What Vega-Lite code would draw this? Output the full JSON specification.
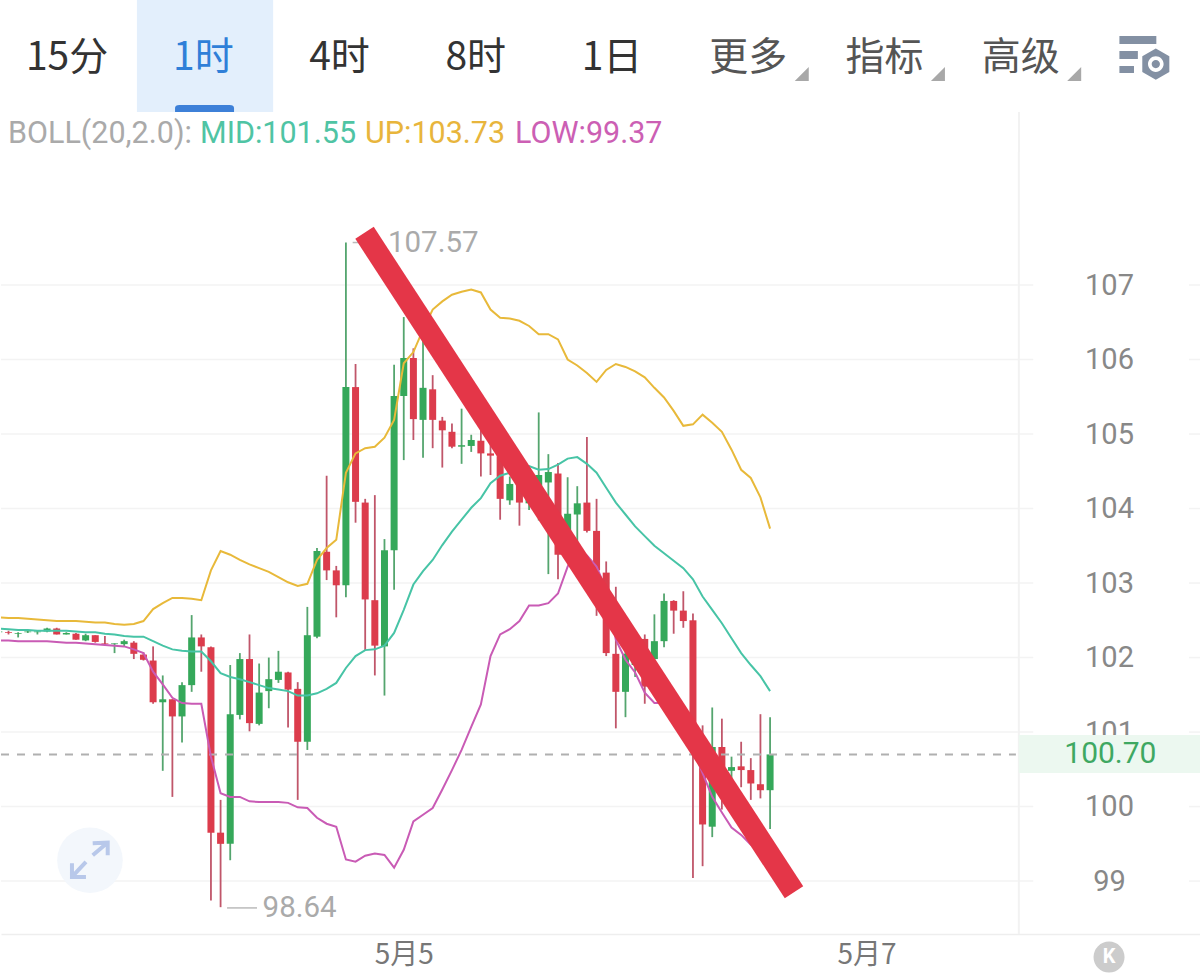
{"$schema":"https://vega.github.io/schema/vega-lite/v6.json","padding":0,"background":"white","spacing":0,"bounds":"flush","config":{"view":{"stroke":null},"axis":{"title":null},"concat":{"spacing":0}},
"datasets":{
"tabs":[{"tab":"15分"},{"tab":"1时"},{"tab":"4时"},{"tab":"8时"},{"tab":"1日"},{"tab":"更多"},{"tab":"指标"},{"tab":"高级"},{"tab":"设置"}],
"boll":[{"key":"BOLL","label":"BOLL(20,2.0):"},{"key":"MID","label":"MID:101.55"},{"key":"UP","label":"UP:103.73"},{"key":"LOW","label":"LOW:99.37"}],
"levels":[{"p":99},{"p":100},{"p":101},{"p":102},{"p":103},{"p":104},{"p":105},{"p":106},{"p":107}],
"extremes":[{"n":35,"n1":35.7,"n2":36.4,"p":107.57,"t":"107.57"},{"n":22,"n1":22.67,"n2":25.78,"p":98.64,"t":"98.64"}],
"slash":[{"n":36.93,"p":107.7},{"n":81.48,"p":98.85}],
"expand":[{"n":8.45,"p":99.28}],
"home":[{"n":114.16,"p":97.98,"t":"K"}],
"last":[{"n":114.3,"p":100.7,"t":"100.70","lo":100.45,"hi":100.96,"n1":104.8,"n2":123.7}],
"c":[
{"n":-1,"dir":"u","high":102.36,"open":102.34,"close":102.35,"low":102.33,"mid":102.39,"upper":102.54,"lower":102.23},
{"n":0,"dir":"d","high":102.36,"open":102.34,"close":102.33,"low":102.31,"mid":102.38,"upper":102.53,"lower":102.23},
{"n":1,"dir":"u","high":102.34,"open":102.32,"close":102.33,"low":102.27,"mid":102.37,"upper":102.53,"lower":102.22},
{"n":2,"dir":"u","high":102.36,"open":102.34,"close":102.35,"low":102.33,"mid":102.37,"upper":102.52,"lower":102.22},
{"n":3,"dir":"u","high":102.37,"open":102.34,"close":102.35,"low":102.31,"mid":102.36,"upper":102.51,"lower":102.22},
{"n":4,"dir":"u","high":102.4,"open":102.35,"close":102.39,"low":102.34,"mid":102.36,"upper":102.5,"lower":102.22},
{"n":5,"dir":"d","high":102.4,"open":102.39,"close":102.31,"low":102.31,"mid":102.36,"upper":102.49,"lower":102.21},
{"n":6,"dir":"u","high":102.34,"open":102.31,"close":102.33,"low":102.31,"mid":102.36,"upper":102.49,"lower":102.2},
{"n":7,"dir":"d","high":102.33,"open":102.32,"close":102.24,"low":102.24,"mid":102.35,"upper":102.49,"lower":102.2},
{"n":8,"dir":"u","high":102.32,"open":102.23,"close":102.3,"low":102.22,"mid":102.34,"upper":102.48,"lower":102.19},
{"n":9,"dir":"d","high":102.3,"open":102.3,"close":102.21,"low":102.2,"mid":102.34,"upper":102.47,"lower":102.18},
{"n":10,"dir":"d","high":102.29,"open":102.19,"close":102.18,"low":102.17,"mid":102.32,"upper":102.47,"lower":102.17},
{"n":11,"dir":"u","high":102.19,"open":102.18,"close":102.19,"low":102.06,"mid":102.31,"upper":102.45,"lower":102.16},
{"n":12,"dir":"u","high":102.24,"open":102.18,"close":102.22,"low":102.15,"mid":102.29,"upper":102.44,"lower":102.15},
{"n":13,"dir":"d","high":102.22,"open":102.2,"close":102.05,"low":101.98,"mid":102.28,"upper":102.45,"lower":102.11},
{"n":14,"dir":"d","high":102.07,"open":102.04,"close":101.97,"low":101.96,"mid":102.28,"upper":102.49,"lower":102.06},
{"n":15,"dir":"d","high":102.15,"open":101.96,"close":101.4,"low":101.38,"mid":102.22,"upper":102.65,"lower":101.81},
{"n":16,"dir":"u","high":101.76,"open":101.4,"close":101.44,"low":100.48,"mid":102.16,"upper":102.73,"lower":101.64},
{"n":17,"dir":"d","high":101.44,"open":101.44,"close":101.21,"low":100.13,"mid":102.11,"upper":102.8,"lower":101.46},
{"n":18,"dir":"u","high":101.67,"open":101.21,"close":101.63,"low":100.86,"mid":102.09,"upper":102.8,"lower":101.39},
{"n":19,"dir":"u","high":102.57,"open":101.63,"close":102.27,"low":101.54,"mid":102.08,"upper":102.79,"lower":101.38},
{"n":20,"dir":"d","high":102.31,"open":102.27,"close":102.15,"low":101.81,"mid":102.08,"upper":102.77,"lower":101.38},
{"n":21,"dir":"d","high":102.15,"open":102.14,"close":99.65,"low":98.74,"mid":101.95,"upper":103.17,"lower":100.67},
{"n":22,"dir":"d","high":100.09,"open":99.65,"close":99.5,"low":98.65,"mid":101.79,"upper":103.43,"lower":100.18},
{"n":23,"dir":"u","high":101.9,"open":99.5,"close":101.24,"low":99.28,"mid":101.74,"upper":103.38,"lower":100.13},
{"n":24,"dir":"u","high":102.06,"open":101.23,"close":101.98,"low":101.17,"mid":101.71,"upper":103.31,"lower":100.13},
{"n":25,"dir":"d","high":102.31,"open":101.98,"close":101.12,"low":101.01,"mid":101.67,"upper":103.25,"lower":100.07},
{"n":26,"dir":"u","high":101.92,"open":101.11,"close":101.53,"low":101.09,"mid":101.63,"upper":103.2,"lower":100.06},
{"n":27,"dir":"u","high":102.0,"open":101.55,"close":101.71,"low":101.32,"mid":101.59,"upper":103.15,"lower":100.06},
{"n":28,"dir":"u","high":102.09,"open":101.7,"close":101.81,"low":101.66,"mid":101.57,"upper":103.08,"lower":100.06},
{"n":29,"dir":"d","high":101.81,"open":101.8,"close":101.57,"low":101.06,"mid":101.55,"upper":103.01,"lower":100.05},
{"n":30,"dir":"d","high":101.67,"open":101.58,"close":100.87,"low":100.09,"mid":101.49,"upper":102.96,"lower":99.99},
{"n":31,"dir":"u","high":102.68,"open":100.87,"close":102.3,"low":100.76,"mid":101.49,"upper":102.99,"lower":99.98},
{"n":32,"dir":"u","high":103.47,"open":102.28,"close":103.43,"low":102.26,"mid":101.52,"upper":103.31,"lower":99.85},
{"n":33,"dir":"d","high":104.44,"open":103.42,"close":103.17,"low":103.04,"mid":101.58,"upper":103.47,"lower":99.77},
{"n":34,"dir":"d","high":103.23,"open":103.17,"close":102.97,"low":102.54,"mid":101.66,"upper":103.58,"lower":99.73},
{"n":35,"dir":"u","high":107.57,"open":102.97,"close":105.63,"low":102.81,"mid":101.86,"upper":104.48,"lower":99.29},
{"n":36,"dir":"d","high":105.94,"open":105.63,"close":104.09,"low":103.81,"mid":102.02,"upper":104.74,"lower":99.26},
{"n":37,"dir":"d","high":104.13,"open":104.08,"close":102.78,"low":102.09,"mid":102.1,"upper":104.81,"lower":99.34},
{"n":38,"dir":"d","high":104.18,"open":102.77,"close":102.16,"low":101.76,"mid":102.11,"upper":104.83,"lower":99.37},
{"n":39,"dir":"u","high":103.59,"open":102.15,"close":103.44,"low":101.49,"mid":102.16,"upper":104.95,"lower":99.35},
{"n":40,"dir":"u","high":105.93,"open":103.44,"close":105.51,"low":102.91,"mid":102.33,"upper":105.19,"lower":99.18},
{"n":41,"dir":"u","high":106.57,"open":105.51,"close":106.02,"low":104.65,"mid":102.64,"upper":105.95,"lower":99.42},
{"n":42,"dir":"d","high":106.15,"open":106.02,"close":105.2,"low":104.92,"mid":102.98,"upper":106.1,"lower":99.8},
{"n":43,"dir":"u","high":106.26,"open":105.19,"close":105.62,"low":104.68,"mid":103.16,"upper":106.4,"lower":99.89},
{"n":44,"dir":"d","high":105.79,"open":105.6,"close":105.19,"low":104.81,"mid":103.31,"upper":106.67,"lower":99.98},
{"n":45,"dir":"d","high":105.23,"open":105.18,"close":105.05,"low":104.55,"mid":103.51,"upper":106.78,"lower":100.23},
{"n":46,"dir":"d","high":105.14,"open":105.03,"close":104.83,"low":104.81,"mid":103.69,"upper":106.87,"lower":100.49},
{"n":47,"dir":"u","high":105.34,"open":104.83,"close":104.85,"low":104.6,"mid":103.85,"upper":106.91,"lower":100.76},
{"n":48,"dir":"u","high":104.99,"open":104.84,"close":104.92,"low":104.76,"mid":104.01,"upper":106.94,"lower":101.07},
{"n":49,"dir":"d","high":105.08,"open":104.91,"close":104.74,"low":104.43,"mid":104.14,"upper":106.9,"lower":101.37},
{"n":50,"dir":"d","high":104.92,"open":104.74,"close":104.71,"low":104.45,"mid":104.34,"upper":106.67,"lower":102.02},
{"n":51,"dir":"d","high":104.75,"open":104.7,"close":104.13,"low":103.85,"mid":104.44,"upper":106.56,"lower":102.31},
{"n":52,"dir":"u","high":104.43,"open":104.11,"close":104.33,"low":104.05,"mid":104.48,"upper":106.55,"lower":102.38},
{"n":53,"dir":"d","high":104.38,"open":104.34,"close":104.08,"low":103.77,"mid":104.52,"upper":106.52,"lower":102.49},
{"n":54,"dir":"u","high":104.52,"open":104.07,"close":104.38,"low":103.98,"mid":104.57,"upper":106.45,"lower":102.7},
{"n":55,"dir":"u","high":105.29,"open":104.05,"close":104.45,"low":103.84,"mid":104.52,"upper":106.34,"lower":102.7},
{"n":56,"dir":"u","high":104.73,"open":104.35,"close":104.49,"low":103.12,"mid":104.53,"upper":106.34,"lower":102.73},
{"n":57,"dir":"d","high":104.61,"open":104.47,"close":103.38,"low":103.05,"mid":104.59,"upper":106.27,"lower":102.86},
{"n":58,"dir":"u","high":104.42,"open":103.69,"close":103.93,"low":103.51,"mid":104.67,"upper":106.0,"lower":103.22},
{"n":59,"dir":"u","high":104.3,"open":103.92,"close":104.07,"low":103.54,"mid":104.69,"upper":105.92,"lower":103.47},
{"n":60,"dir":"d","high":104.96,"open":104.08,"close":103.7,"low":103.68,"mid":104.6,"upper":105.82,"lower":103.37},
{"n":61,"dir":"d","high":104.13,"open":103.7,"close":103.17,"low":102.56,"mid":104.48,"upper":105.7,"lower":103.22},
{"n":62,"dir":"d","high":103.29,"open":103.14,"close":102.06,"low":102.02,"mid":104.28,"upper":105.86,"lower":102.91},
{"n":63,"dir":"d","high":102.95,"open":102.05,"close":101.54,"low":101.05,"mid":104.08,"upper":105.94,"lower":102.24},
{"n":64,"dir":"u","high":102.15,"open":101.54,"close":102.05,"low":101.2,"mid":103.92,"upper":105.9,"lower":101.97},
{"n":65,"dir":"u","high":102.37,"open":101.9,"close":102.17,"low":101.74,"mid":103.76,"upper":105.84,"lower":101.8},
{"n":66,"dir":"d","high":102.31,"open":102.25,"close":101.61,"low":101.38,"mid":103.63,"upper":105.76,"lower":101.53},
{"n":67,"dir":"u","high":102.58,"open":101.98,"close":102.22,"low":101.93,"mid":103.5,"upper":105.62,"lower":101.39},
{"n":68,"dir":"u","high":102.86,"open":102.22,"close":102.76,"low":102.14,"mid":103.4,"upper":105.49,"lower":101.39},
{"n":69,"dir":"d","high":102.77,"open":102.76,"close":102.63,"low":102.32,"mid":103.3,"upper":105.31,"lower":101.3},
{"n":70,"dir":"d","high":102.89,"open":102.63,"close":102.49,"low":102.4,"mid":103.2,"upper":105.11,"lower":101.1},
{"n":71,"dir":"d","high":102.59,"open":102.5,"close":100.89,"low":99.04,"mid":103.05,"upper":105.13,"lower":100.76},
{"n":72,"dir":"d","high":101.09,"open":100.58,"close":99.76,"low":99.2,"mid":102.82,"upper":105.26,"lower":100.45},
{"n":73,"dir":"u","high":101.33,"open":99.73,"close":100.8,"low":99.59,"mid":102.64,"upper":105.15,"lower":100.13},
{"n":74,"dir":"d","high":101.18,"open":100.8,"close":100.41,"low":99.96,"mid":102.46,"upper":105.03,"lower":99.92},
{"n":75,"dir":"u","high":100.67,"open":100.48,"close":100.53,"low":100.22,"mid":102.26,"upper":104.79,"lower":99.72},
{"n":76,"dir":"d","high":100.87,"open":100.54,"close":100.49,"low":100.26,"mid":102.06,"upper":104.52,"lower":99.62},
{"n":77,"dir":"d","high":100.65,"open":100.49,"close":100.31,"low":100.09,"mid":101.9,"upper":104.41,"lower":99.49},
{"n":78,"dir":"d","high":101.24,"open":100.3,"close":100.22,"low":100.11,"mid":101.75,"upper":104.15,"lower":99.42},
{"n":79,"dir":"u","high":101.2,"open":100.22,"close":100.7,"low":99.7,"mid":101.55,"upper":103.73,"lower":99.37}
]},
"vconcat":[
{"width":1200,"height":112,"data":{"name":"tabs"},
"layer":[
{"transform":[{"filter":"datum.tab==='1时'"}],"mark":{"type":"rect","color":"#e3effc","xOffset":1.7},"encoding":{"x":{"field":"tab","type":"nominal","sort":null,"axis":null,"scale":{"type":"band","domain":["15分","1时","4时","8时","1日","更多","指标","高级","设置"],"range":[-2,1224],"paddingInner":0,"paddingOuter":0}}}},
{"transform":[{"filter":"datum.tab==='1时'"}],"mark":{"type":"point","filled":true,"color":"#3d80d8","opacity":1,"shape":"M-1 0.12 L-1 -0.02 Q-1 -0.12 -0.85 -0.12 L0.85 -0.12 Q1 -0.12 1 -0.02 L1 0.12 Z","size":3481,"stroke":null,"yOffset":52.5,"xOffset":1.2},"encoding":{"x":{"field":"tab","type":"nominal","sort":null,"axis":null,"scale":{"type":"band","domain":["15分","1时","4时","8时","1日","更多","指标","高级","设置"],"range":[-2,1224],"paddingInner":0,"paddingOuter":0}}}},
{"transform":[{"filter":"datum.tab!=='设置'"}],"mark":{"type":"text","font":"Noto Sans CJK SC","fontSize":39,"baseline":"middle","align":"center","dy":2},"encoding":{"text":{"field":"tab"},"x":{"field":"tab","type":"nominal","sort":null,"axis":null,"scale":{"type":"band","domain":["15分","1时","4时","8时","1日","更多","指标","高级","设置"],"range":[-2,1224],"paddingInner":0,"paddingOuter":0}},"color":{"condition":[{"test":"datum.tab==='1时'","value":"#2f7fd8"},{"test":"indexof(['更多','指标','高级'],datum.tab)>=0","value":"#555555"}],"value":"#333333"}}},
{"transform":[{"filter":"datum.tab==='更多'||datum.tab==='指标'||datum.tab==='高级'"}],"mark":{"type":"point","filled":true,"color":"#a8a8a8","opacity":1,"shape":"M1 -1 L1 1 L-1 1 Z","size":196,"xOffset":53.5,"yOffset":18,"stroke":null},"encoding":{"x":{"field":"tab","type":"nominal","sort":null,"axis":null,"scale":{"type":"band","domain":["15分","1时","4时","8时","1日","更多","指标","高级","设置"],"range":[-2,1224],"paddingInner":0,"paddingOuter":0}}}},
{"transform":[{"filter":"datum.tab==='设置'"}],"mark":{"type":"point","filled":true,"color":"#8390a3","opacity":1,"size":2704,"xOffset":-12,"yOffset":-1,"stroke":null,"shape":"M-0.98 -0.73 L0.44 -0.73 L0.44 -0.42 L-0.98 -0.42 Z M-0.98 -0.15 L-0.27 -0.15 L-0.27 0.15 L-0.98 0.15 Z M-0.98 0.42 L-0.42 0.42 L-0.42 0.69 L-0.98 0.69 Z M0.42 -0.25 L0.94 0.05 L0.94 0.65 L0.42 0.95 L-0.1 0.65 L-0.1 0.05 Z M0.42 0.05 A0.3 0.3 0 1 0 0.42 0.65 A0.3 0.3 0 1 0 0.42 0.05 Z M0.42 0.19 A0.16 0.16 0 1 1 0.42 0.51 A0.16 0.16 0 1 1 0.42 0.19 Z"},"encoding":{"x":{"field":"tab","type":"nominal","sort":null,"axis":null,"scale":{"type":"band","domain":["15分","1时","4时","8时","1日","更多","指标","高级","设置"],"range":[-2,1224],"paddingInner":0,"paddingOuter":0}}}}
]},
{"width":1200,"height":40,"data":{"name":"boll"},
"layer":[
{"transform":[{"filter":"datum.key==='BOLL'"}],"mark":{"type":"rule","color":"#f2f2f2","strokeWidth":2},"encoding":{"x":{"datum":1018,"type":"quantitative","axis":null,"scale":{"domain":[0,1200],"nice":false,"zero":false}}}},
{"transform":[{"filter":"datum.key==='BOLL'"}],"mark":{"type":"text","font":"Roboto","fontSize":30.5,"align":"left","baseline":"middle","color":"#aaaaaa","dy":2},"encoding":{"text":{"field":"label"},"x":{"datum":7,"type":"quantitative","axis":null,"scale":{"domain":[0,1200],"nice":false,"zero":false}}}},
{"transform":[{"filter":"datum.key==='MID'"}],"mark":{"type":"text","font":"Roboto","fontSize":30.5,"align":"left","baseline":"middle","color":"#4fc4a4","dy":2},"encoding":{"text":{"field":"label"},"x":{"datum":199,"type":"quantitative","axis":null,"scale":{"domain":[0,1200],"nice":false,"zero":false}}}},
{"transform":[{"filter":"datum.key==='UP'"}],"mark":{"type":"text","font":"Roboto","fontSize":30.5,"align":"left","baseline":"middle","color":"#e8b53c","dy":2},"encoding":{"text":{"field":"label"},"x":{"datum":364,"type":"quantitative","axis":null,"scale":{"domain":[0,1200],"nice":false,"zero":false}}}},
{"transform":[{"filter":"datum.key==='LOW'"}],"mark":{"type":"text","font":"Roboto","fontSize":30.5,"align":"left","baseline":"middle","color":"#cc5fb4","dy":2},"encoding":{"text":{"field":"label"},"x":{"datum":514,"type":"quantitative","axis":null,"scale":{"domain":[0,1200],"nice":false,"zero":false}}}}
]},
{"width":1200,"height":782,
"layer":[
{"data":{"name":"levels"},"mark":{"type":"rule","color":"#f3f3f3","strokeWidth":1.5},"encoding":{"y":{"field":"p","type":"quantitative","scale":{"domain":[98.29,108.785],"nice":false,"zero":false},"axis":{"orient":"right","values":[99,100,101,102,103,104,105,106,107],"format":"d","domain":false,"ticks":false,"grid":false,"labelAlign":"center","labelBaseline":"middle","labelPadding":-92,"labelFont":"Roboto","labelFontSize":29,"labelColor":"#888888","labelBound":false,"labelOverlap":false}},"x":{"datum":-0.778,"type":"quantitative","scale":{"domain":[-0.778,123.7],"nice":false,"zero":false},"axis":{"values":[41,89],"labelExpr":"datum.value===41?'5月5':'5月7'","ticks":false,"grid":false,"domain":true,"domainColor":"#eeeeee","domainWidth":1.5,"labelFont":"Noto Sans CJK SC","labelFontSize":28,"labelColor":"#777777","labelPadding":7,"labelFlush":false,"labelOverlap":false,"labelBound":false}},"x2":{"datum":106.3}}},
{"data":{"name":"levels"},"mark":{"type":"rule","color":"#f3f3f3","strokeWidth":1.5},"encoding":{"y":{"field":"p","type":"quantitative","scale":{"domain":[98.29,108.785],"nice":false,"zero":false}},"x":{"datum":122.45,"type":"quantitative","scale":{"domain":[-0.778,123.7],"nice":false,"zero":false}},"x2":{"datum":123.7}}},
{"data":{"name":"last"},"mark":{"type":"rule","color":"#f2f2f2","strokeWidth":2},"encoding":{"x":{"field":"n1","type":"quantitative","scale":{"domain":[-0.778,123.7],"nice":false,"zero":false}}}},
{"data":{"name":"last"},"mark":{"type":"rect","color":"#ecf8f0"},"encoding":{"x":{"field":"n1","type":"quantitative","scale":{"domain":[-0.778,123.7],"nice":false,"zero":false}},"x2":{"field":"n2"},"y":{"field":"hi","type":"quantitative","scale":{"domain":[98.29,108.785],"nice":false,"zero":false}},"y2":{"field":"lo"}}},
{"data":{"name":"expand"},"mark":{"type":"point","filled":true,"shape":"circle","size":4300,"color":"#f3f7fc","opacity":1,"stroke":null},"encoding":{"x":{"field":"n","type":"quantitative","scale":{"domain":[-0.778,123.7],"nice":false,"zero":false}},"y":{"field":"p","type":"quantitative","scale":{"domain":[98.29,108.785],"nice":false,"zero":false}}}},
{"data":{"name":"expand"},"mark":{"type":"point","filled":false,"size":2500,"stroke":"#b8c8ea","strokeWidth":4,"opacity":1,"shape":"M0.11 -0.68 L0.71 -0.71 L0.71 -0.2 M0.71 -0.71 L0.11 -0.2 M-0.72 0.12 L-0.72 0.67 L-0.16 0.67 M-0.72 0.67 L-0.16 0.07"},"encoding":{"x":{"field":"n","type":"quantitative","scale":{"domain":[-0.778,123.7],"nice":false,"zero":false}},"y":{"field":"p","type":"quantitative","scale":{"domain":[98.29,108.785],"nice":false,"zero":false}}}},
{"data":{"name":"c"},"mark":{"type":"rule","strokeWidth":1.8,"clip":true},"encoding":{"x":{"field":"n","type":"quantitative","scale":{"domain":[-0.778,123.7],"nice":false,"zero":false}},"y":{"field":"low","type":"quantitative","scale":{"domain":[98.29,108.785],"nice":false,"zero":false}},"y2":{"field":"high"},"color":{"condition":{"test":"datum.dir==='u'","value":"#54a56e"},"value":"#c0566a"}}},
{"data":{"name":"c"},"mark":{"type":"rule","strokeWidth":7,"clip":true},"encoding":{"x":{"field":"n","type":"quantitative","scale":{"domain":[-0.778,123.7],"nice":false,"zero":false}},"y":{"field":"open","type":"quantitative","scale":{"domain":[98.29,108.785],"nice":false,"zero":false}},"y2":{"field":"close"},"color":{"condition":{"test":"datum.dir==='u'","value":"#35a85a"},"value":"#dc3c4c"}}},
{"data":{"name":"last"},"mark":{"type":"rule","color":"#b0b0b0","strokeWidth":2,"strokeDash":[8,8]},"encoding":{"y":{"field":"p","type":"quantitative","scale":{"domain":[98.29,108.785],"nice":false,"zero":false}},"x":{"datum":-0.778,"type":"quantitative","scale":{"domain":[-0.778,123.7],"nice":false,"zero":false}},"x2":{"datum":104.5}}},
{"data":{"name":"c"},"mark":{"type":"line","color":"#e8b93a","strokeWidth":2,"clip":true},"encoding":{"x":{"field":"n","type":"quantitative","scale":{"domain":[-0.778,123.7],"nice":false,"zero":false}},"y":{"field":"upper","type":"quantitative","scale":{"domain":[98.29,108.785],"nice":false,"zero":false}}}},
{"data":{"name":"c"},"mark":{"type":"line","color":"#47c4a6","strokeWidth":2,"clip":true},"encoding":{"x":{"field":"n","type":"quantitative","scale":{"domain":[-0.778,123.7],"nice":false,"zero":false}},"y":{"field":"mid","type":"quantitative","scale":{"domain":[98.29,108.785],"nice":false,"zero":false}}}},
{"data":{"name":"c"},"mark":{"type":"line","color":"#c95bb5","strokeWidth":2,"clip":true},"encoding":{"x":{"field":"n","type":"quantitative","scale":{"domain":[-0.778,123.7],"nice":false,"zero":false}},"y":{"field":"lower","type":"quantitative","scale":{"domain":[98.29,108.785],"nice":false,"zero":false}}}},
{"data":{"name":"extremes"},"mark":{"type":"rule","color":"#bbbbbb","strokeWidth":1.5},"encoding":{"x":{"field":"n1","type":"quantitative","scale":{"domain":[-0.778,123.7],"nice":false,"zero":false}},"x2":{"field":"n2"},"y":{"field":"p","type":"quantitative","scale":{"domain":[98.29,108.785],"nice":false,"zero":false}}}},
{"data":{"name":"extremes"},"mark":{"type":"text","font":"Roboto","fontSize":29.5,"color":"#aaaaaa","align":"left","baseline":"middle","dx":42},"encoding":{"text":{"field":"t"},"x":{"field":"n","type":"quantitative","scale":{"domain":[-0.778,123.7],"nice":false,"zero":false}},"y":{"field":"p","type":"quantitative","scale":{"domain":[98.29,108.785],"nice":false,"zero":false}}}},
{"data":{"name":"slash"},"mark":{"type":"line","color":"#e43648","strokeWidth":22,"strokeCap":"butt"},"encoding":{"x":{"field":"n","type":"quantitative","scale":{"domain":[-0.778,123.7],"nice":false,"zero":false}},"y":{"field":"p","type":"quantitative","scale":{"domain":[98.29,108.785],"nice":false,"zero":false}}}},
{"data":{"name":"last"},"mark":{"type":"text","font":"Roboto","fontSize":30,"color":"#3fa862","align":"center","baseline":"middle"},"encoding":{"text":{"field":"t"},"x":{"field":"n","type":"quantitative","scale":{"domain":[-0.778,123.7],"nice":false,"zero":false}},"y":{"field":"p","type":"quantitative","scale":{"domain":[98.29,108.785],"nice":false,"zero":false}}}},
{"data":{"name":"home"},"mark":{"type":"point","filled":true,"shape":"circle","size":962,"color":"#cccccc","opacity":1,"stroke":null},"encoding":{"x":{"field":"n","type":"quantitative","scale":{"domain":[-0.778,123.7],"nice":false,"zero":false}},"y":{"field":"p","type":"quantitative","scale":{"domain":[98.29,108.785],"nice":false,"zero":false}}}},
{"data":{"name":"home"},"mark":{"type":"text","font":"Roboto","fontWeight":"bold","fontSize":20,"color":"white","align":"center","baseline":"middle"},"encoding":{"text":{"field":"t"},"x":{"field":"n","type":"quantitative","scale":{"domain":[-0.778,123.7],"nice":false,"zero":false}},"y":{"field":"p","type":"quantitative","scale":{"domain":[98.29,108.785],"nice":false,"zero":false}}}}
]}
]}
